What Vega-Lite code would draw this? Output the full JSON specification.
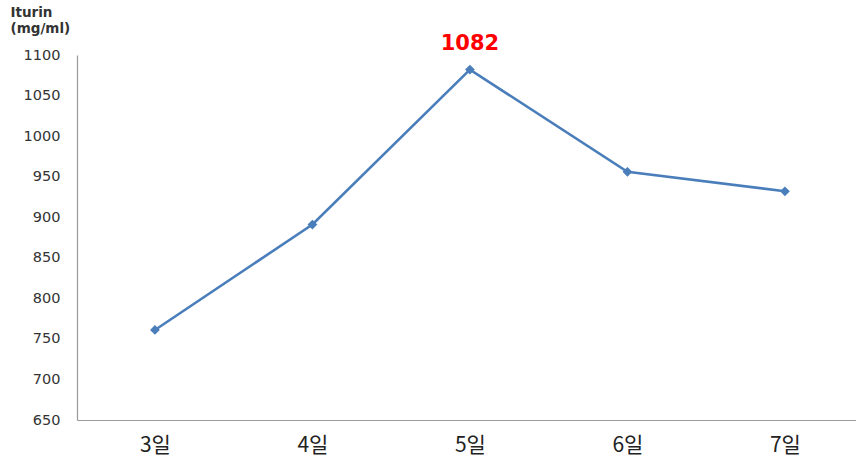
{
  "$schema": "https://vega.github.io/schema/vega-lite/v6.json",
  "width": 779,
  "height": 365,
  "autosize": {"type": "none"},
  "padding": {"left": 77, "top": 55, "right": 0, "bottom": 36},
  "background": "white",
  "config": {"view": {"stroke": null}},
  "data": {
    "values": [
      {"day": "3일", "iturin": 761},
      {"day": "4일", "iturin": 891},
      {"day": "5일", "iturin": 1082},
      {"day": "6일", "iturin": 956},
      {"day": "7일", "iturin": 932}
    ]
  },
  "encoding": {
    "x": {
      "field": "day",
      "type": "ordinal",
      "sort": null,
      "scale": {"type": "point", "padding": 0.473, "align": 0.523},
      "axis": {
        "title": null,
        "labelAngle": 0,
        "ticks": false,
        "domainColor": "#9a9a9a",
        "domainWidth": 1.2,
        "labelFont": "Noto Sans CJK KR",
        "labelFontSize": 21,
        "labelColor": "#222222",
        "labelPadding": 14
      }
    },
    "y": {
      "field": "iturin",
      "type": "quantitative",
      "scale": {"domain": [650, 1100], "nice": false, "zero": false},
      "axis": {
        "values": [650, 700, 750, 800, 850, 900, 950, 1000, 1050, 1100],
        "format": "d",
        "grid": false,
        "ticks": false,
        "domainColor": "#9a9a9a",
        "domainWidth": 1.2,
        "labelFont": "DejaVu Sans",
        "labelFontSize": 14.5,
        "labelColor": "#333333",
        "labelPadding": 17,
        "title": ["Iturin", "(mg/ml)"],
        "titleAngle": 0,
        "titleAlign": "left",
        "titleBaseline": "top",
        "titleX": -67,
        "titleY": -50,
        "titleFont": "DejaVu Sans",
        "titleFontSize": 13.5,
        "titleFontWeight": "bold",
        "titleColor": "#333333",
        "titleLineHeight": 16
      }
    }
  },
  "layer": [
    {
      "mark": {"type": "line", "color": "#4a7ebb", "strokeWidth": 2.6}
    },
    {
      "mark": {"type": "point", "shape": "diamond", "filled": true, "opacity": 1, "color": "#4a7ebb", "size": 95}
    },
    {
      "transform": [{"filter": "datum.day === '5일'"}],
      "mark": {
        "type": "text",
        "color": "#ff0000",
        "font": "DejaVu Sans",
        "fontSize": 21,
        "fontWeight": "bold",
        "dy": -16,
        "baseline": "bottom"
      },
      "encoding": {"text": {"field": "iturin", "type": "quantitative", "format": "d"}}
    }
  ]
}
